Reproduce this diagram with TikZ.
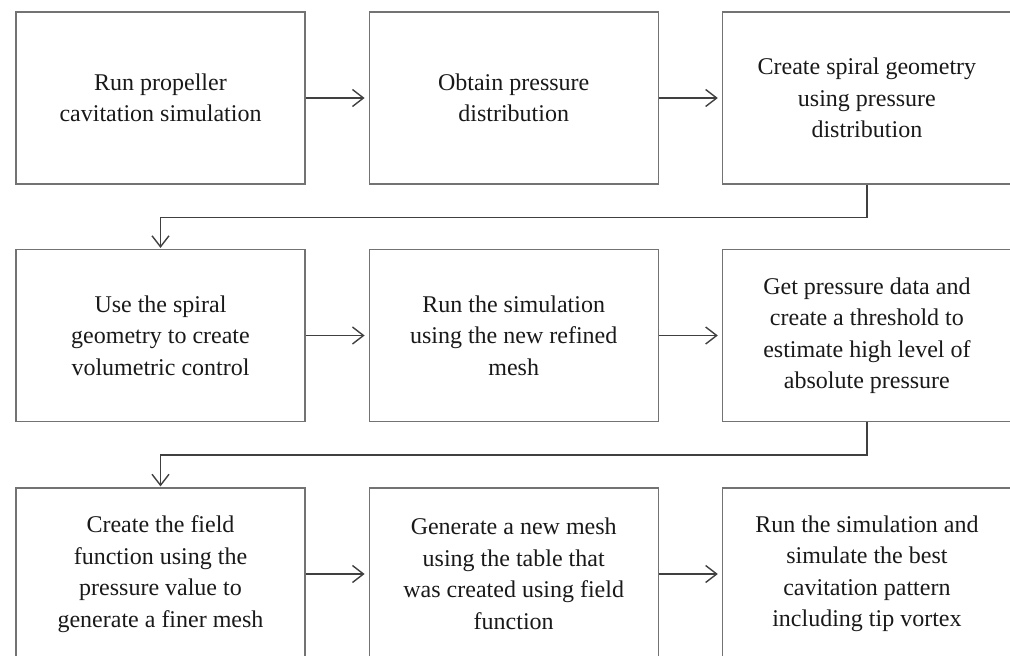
\documentclass[tikz,border=0pt]{standalone}
\usepackage{fontspec}
\setmainfont{Liberation Serif}
\usepackage{tikz}
\usetikzlibrary{positioning, arrows.meta}
\tikzset{block/.style={draw=black!55, line width=1.2pt, minimum width=289pt, minimum height=172pt, inner sep=0pt, align=center, font=\fontsize{24}{31.5}\selectfont, text=black!90},
line/.style={-{Straight Barb[length=11pt,width=17pt,line width=1.4pt]}, line width=1.4pt, draw=black!75}
}

\begin{document}
\begin{tikzpicture}[x=1pt,y=1pt]
\clip (0,0) rectangle (1010,-656);
\useasboundingbox (0,0) rectangle (1010,-656);
\node[block] (a) at (160.5,-98) {Run propeller\\cavitation simulation};
\node[block,right=63pt of a] (b) {Obtain pressure\\distribution};
\node[block,right=63pt of b] (c) {Create spiral geometry\\using pressure\\distribution};
 % second row
\node[block] (d) at (160.5,-335.5) {Use the spiral\\geometry to create\\volumetric control};
\node[block,right=63pt of d] (e) {Run the simulation\\using the new refined\\mesh};
\node[block,right=63pt of e] (f) {Get pressure data and\\create a threshold to\\estimate high level of\\absolute pressure};
 % third row, cut at the bottom
\node[block] (g) at (160.5,-574) {Create the field\\function using the\\pressure value to\\generate a finer mesh};
\node[block,right=63pt of g] (h) {Generate a new mesh\\using the table that\\was created using field\\function};
\node[block,right=63pt of h] (i) {Run the simulation and\\simulate the best\\cavitation pattern\\including tip vortex};
\draw[line,shorten >=4pt] (a)--(b);
\draw[line,shorten >=4pt] (b)--(c);
\draw[line,shorten >=1pt] (c.south)-- ++(0,-33) -| (d.north);
\draw[line,shorten >=4pt] (d)--(e);
\draw[line,shorten >=4pt] (e)--(f);
\draw[line,shorten >=1pt] (f.south)-- ++(0,-33) -| (g.north);
\draw[line,shorten >=4pt] (g)--(h);
\draw[line,shorten >=4pt] (h)--(i);
\end{tikzpicture}
\end{document}
